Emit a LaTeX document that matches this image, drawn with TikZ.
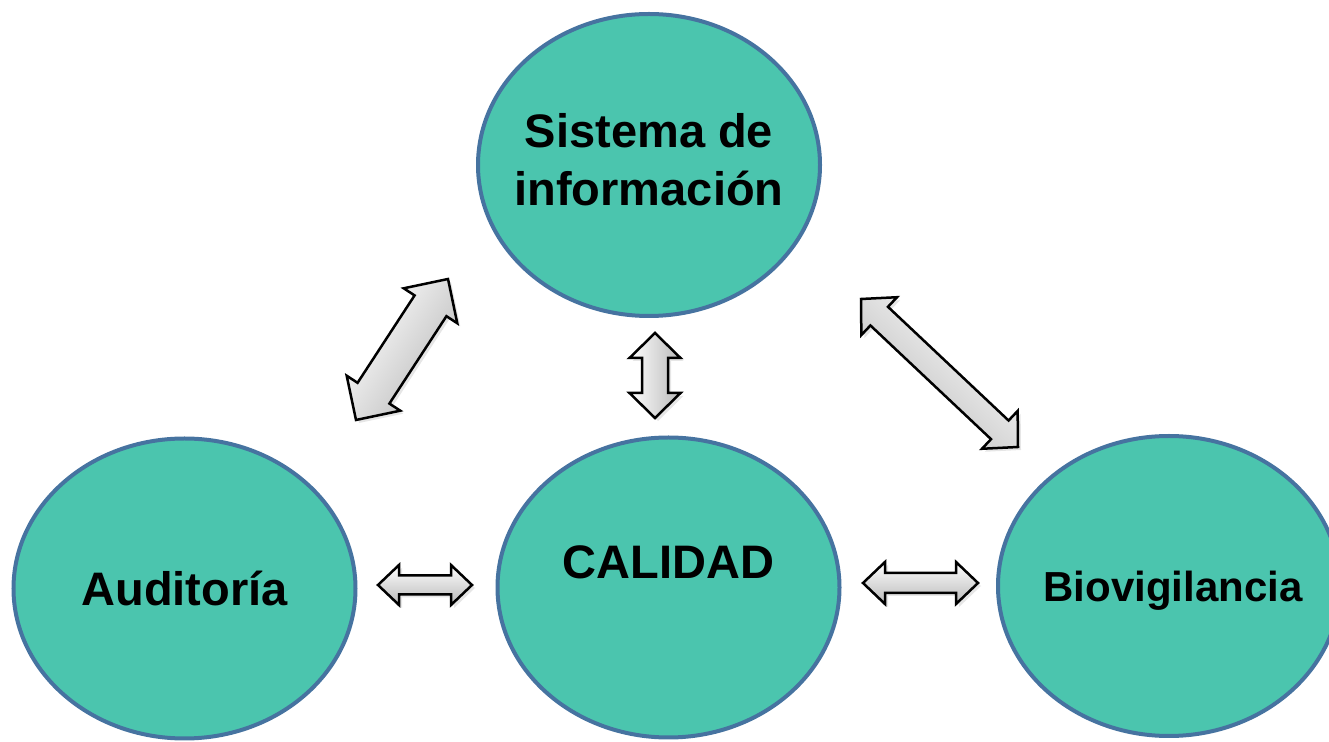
\documentclass[tikz,border=0pt]{standalone}
\usepackage{fontspec}
\setmainfont{Liberation Sans}
\usetikzlibrary{shapes.geometric,calc,shadows}

\definecolor{circfill}{RGB}{75,197,174}
\definecolor{circline}{RGB}{70,115,160}

\tikzset{
  circ/.style={ellipse, draw=circline, line width=2pt, fill=circfill,
    minimum width=171pt, minimum height=150pt, inner xsep=-12pt, inner ysep=0pt,
    font=\fontsize{23.5}{29}\selectfont\bfseries, align=center},
  blockarrow/.style={draw=black, line width=1.25pt, top color=white, bottom color=gray!55,
    drop shadow={opacity=0.2, shadow xshift=1.5pt, shadow yshift=-1.5pt}}
}

% double block arrow: tip, tip, head length, half head width, half shaft width, shading angle
\newcommand{\dblarrow}[6]{%
  \path[blockarrow, shading angle=#6]
    (#1) -- ($(#1)!#3!(#2)!#4!90:(#2)$) -- ($(#1)!#3!(#2)!#5!90:(#2)$)
    -- ($(#2)!#3!(#1)!#5!-90:(#1)$) -- ($(#2)!#3!(#1)!#4!-90:(#1)$)
    -- (#2) -- ($(#2)!#3!(#1)!#4!90:(#1)$) -- ($(#2)!#3!(#1)!#5!90:(#1)$)
    -- ($(#1)!#3!(#2)!#5!-90:(#2)$) -- ($(#1)!#3!(#2)!#4!-90:(#2)$) -- cycle;}

\begin{document}
\begin{tikzpicture}[x=0.5pt,y=-0.5pt]
\useasboundingbox (0,0) rectangle (1329,742);

%-------------------Circles--------------------%
\node[circ, minimum height=151pt, text depth=6pt] (sis) at (649,165) {Sistema de\\información};
\node[circ, text depth=25.3pt] (cal) at (668.5,587.5) {CALIDAD};
\node[circ] (aud) at (184.5,588.5) {Auditoría};
\node[circ, font=\fontsize{21}{25}\selectfont\bfseries, text height=20.3pt] (bio) at (1169,586) {\hspace*{4pt}Biovigilancia};
%----------------------------------------------%

%-------------------Arrow ends-----------------%
\coordinate (as-lo) at (356,420);
\coordinate (as-hi) at (448,279);
\coordinate (sc-hi) at (655,333);
\coordinate (sc-lo) at (655,418);
\coordinate (sb-hi) at (861,299);
\coordinate (sb-lo) at (1018,447);
\coordinate (ac-l) at (378,585);
\coordinate (ac-r) at (472,585);
\coordinate (cb-l) at (863,583);
\coordinate (cb-r) at (978,583);
%----------------------------------------------%

%-------------------Arrows---------------------%
\dblarrow{as-lo}{as-hi}{16pt}{16pt}{9.5pt}{56.9}
\dblarrow{sc-hi}{sc-lo}{12.5pt}{12.75pt}{6.5pt}{90}
\dblarrow{sb-hi}{sb-lo}{12.5pt}{13pt}{6.4pt}{-43.3}
\dblarrow{ac-l}{ac-r}{10.5pt}{10pt}{4.75pt}{0}
\dblarrow{cb-l}{cb-r}{11pt}{10.5pt}{5pt}{0}
%----------------------------------------------%
\end{tikzpicture}
\end{document}
